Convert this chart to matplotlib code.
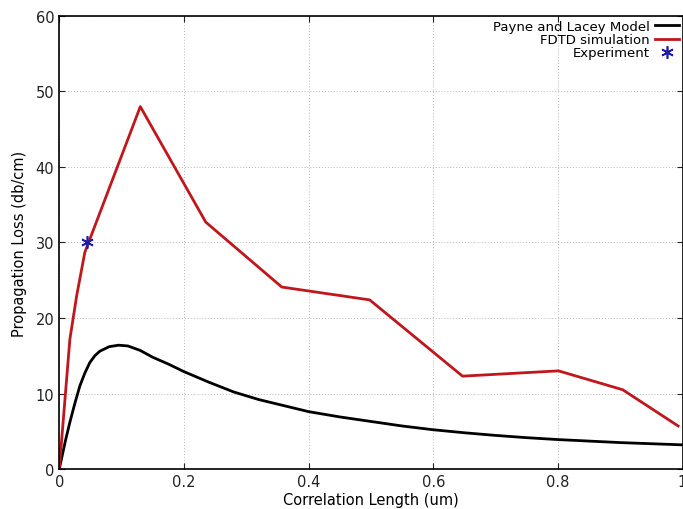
import matplotlib
matplotlib.use('Agg')
import matplotlib.pyplot as plt

# Payne and Lacey model
model_x = [0, 0.01, 0.017, 0.025, 0.033, 0.041, 0.049, 0.057, 0.065, 0.08,
           0.095, 0.11, 0.13, 0.15, 0.175, 0.2, 0.24, 0.28, 0.32, 0.36,
           0.4, 0.45, 0.5, 0.55, 0.6, 0.65, 0.7, 0.75, 0.8, 0.85, 0.9,
           0.95, 1.0]
model_y = [0, 3.8, 6.2, 8.7, 11.0, 12.7, 14.1, 15.0, 15.6, 16.2,
           16.4, 16.3, 15.7, 14.8, 13.9, 12.9, 11.5, 10.2, 9.2, 8.4,
           7.6, 6.9, 6.3, 5.7, 5.2, 4.8, 4.45, 4.15, 3.9, 3.7, 3.5,
           3.35, 3.2]

# FDTD simulation
fdtd_x = [0, 0.017, 0.028, 0.041, 0.13, 0.235, 0.357, 0.498, 0.647, 0.801, 0.904, 0.993]
fdtd_y = [0, 17.2, 23.0, 28.7, 48.0, 32.7, 24.1, 22.4, 12.3, 13.0, 10.5, 5.7]

# Experiment
exp_x = [0.045]
exp_y = [30]

xticks = [0, 0.2, 0.4, 0.6, 0.8, 1]
xticklabels = ['0', '0.2', '0.4', '0.6', '0.8', '1']
yticks = [0, 10, 20, 30, 40, 50, 60]

fig = plt.figure(figsize=(6.83, 5.10), dpi=100)
ax = fig.add_axes([0.0868, 0.0784, 0.9125, 0.8883])

ax.plot(model_x, model_y, color='black', lw=2, label='Payne and Lacey Model')
ax.plot(fdtd_x, fdtd_y, color='#c0161c', lw=2, label='FDTD simulation')
ax.plot(exp_x, exp_y, linestyle='none', marker=(6, 2, 0), markersize=9,
        markeredgewidth=1.2, color='#1c1ca8', label='Experiment')

ax.set_xlim(0, 1)
ax.set_ylim(0, 60)
ax.set_xticks(xticks)
ax.set_xticklabels(xticklabels)
ax.set_yticks(yticks)
ax.tick_params(direction='in', top=True, right=True, labelsize=10.5,
               length=4, colors='#222222')
ax.grid(True, linestyle=(0, (1, 2)), color='#b8b8b8', lw=0.7)
for s in ax.spines.values():
    s.set_linewidth(1.2)

ax.set_xlabel('Correlation Length (um)', fontsize=10.5, labelpad=2)
ax.set_ylabel('Propagation Loss (db/cm)', fontsize=10.5, labelpad=6)

leg = ax.legend(loc='upper right', markerfirst=False, frameon=False,
                fontsize=9.5, handlelength=1.8, handletextpad=0.4,
                labelspacing=0.02, borderaxespad=0.1, borderpad=0.2)
for t in leg.get_texts():
    t.set_ha('right')

fig.savefig('out.png', dpi=100)
